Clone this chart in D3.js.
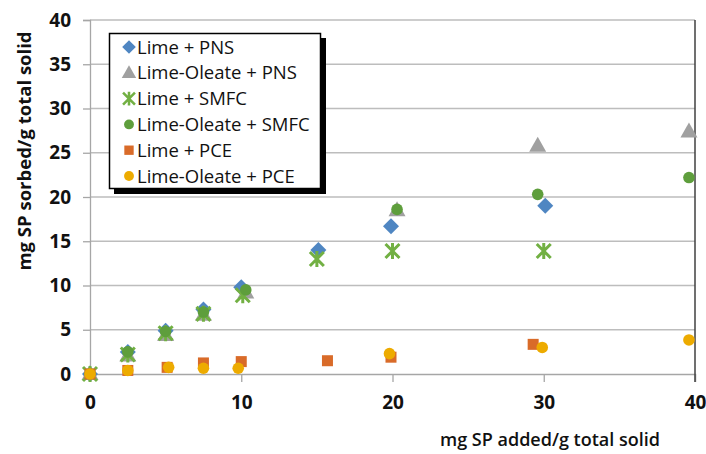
<!DOCTYPE html>
<html><head><meta charset="utf-8">
<script src="https://cdn.jsdelivr.net/npm/d3@7"></script>
<style>body{margin:0;background:#fff}svg{display:block}</style>
</head><body>
<svg id="c" width="706" height="454"></svg>
<script>
const seriesNames = ["Lime + PNS","Lime-Oleate + PNS","Lime + SMFC","Lime-Oleate + SMFC","Lime + PCE","Lime-Oleate + PCE"];
const limePNS_x = [0,2.5,5,7.5,10,15.1,19.9,30.1];
const limePNS_y = [0,2.5,4.9,7.3,9.8,14.0,16.7,19.0];
const oleatePNS_x = [0,2.5,5,7.5,10.3,20.3,29.6,39.6];
const oleatePNS_y = [0,2.1,4.4,6.7,9.2,18.5,25.8,27.4];
const limeSMFC_x = [0,2.5,5,7.5,10.1,15,20,30];
const limeSMFC_y = [0,2.2,4.6,6.8,8.9,13.0,13.9,13.9];
const oleateSMFC_x = [0,2.5,5,7.5,10.3,20.3,29.6,39.6];
const oleateSMFC_y = [0,2.5,4.8,7.0,9.5,18.6,20.3,22.2];
const limePCE_x = [0,2.5,5.1,7.5,10,15.7,19.9,29.3];
const limePCE_y = [0,0.4,0.75,1.25,1.4,1.5,1.9,3.35];
const oleatePCE_x = [0,2.5,5.2,7.5,9.8,19.8,29.9,39.6];
const oleatePCE_y = [0,0.4,0.75,0.65,0.65,2.3,3.0,3.85];
const xTicks = [0,10,20,30,40];
const yTicks = [0,5,10,15,20,25,30,35,40];
const xTitle = "mg SP added/g total solid";
const yTitle = "mg SP sorbed/g total solid";

const seriesX = [limePNS_x, oleatePNS_x, limeSMFC_x, oleateSMFC_x, limePCE_x, oleatePCE_x];
const seriesY = [limePNS_y, oleatePNS_y, limeSMFC_y, oleateSMFC_y, limePCE_y, oleatePCE_y];
const colors = ["#4F86C2","#A0A0A0","#72B043","#5E9E3C","#D96B29","#EDAB00"];
const kinds = ["diamond","triangle","asterisk","circle","square","circle"];

const svg = d3.select("#c");
const font = "'Open Sans', sans-serif";
const m = {l:90, r:695, t:20, b:374};
const x = d3.scaleLinear().domain([0,40]).range([m.l, m.r]);
const y = d3.scaleLinear().domain([0,40]).range([m.b, m.t]);

// gridlines
svg.append("g").selectAll("line").data(yTicks.filter(d=>d>0)).join("line")
  .attr("x1",m.l).attr("x2",m.r).attr("y1",d=>y(d)).attr("y2",d=>y(d))
  .attr("stroke","#BDBDBD").attr("stroke-width",1.3);

// y axis
const yAxis = svg.append("g").attr("transform",`translate(${m.l},0)`)
  .call(d3.axisLeft(y).tickValues(yTicks).tickSize(7).tickPadding(12).tickFormat(d3.format("d")));
yAxis.select(".domain").attr("stroke","#A6A6A6").attr("stroke-width",1.3);
yAxis.selectAll(".tick line").attr("stroke","#A6A6A6").attr("stroke-width",1.3);
yAxis.selectAll("text").attr("font-family",font).attr("font-weight","bold").attr("font-size",19).attr("fill","#111");

// x axis
const xAxis = svg.append("g").attr("transform",`translate(0,${m.b})`)
  .call(d3.axisBottom(x).tickValues(xTicks).tickSize(8).tickPadding(14).tickFormat(d3.format("d")));
xAxis.select(".domain").attr("stroke","#A6A6A6").attr("stroke-width",1.3);
xAxis.selectAll(".tick line").attr("stroke","#A6A6A6").attr("stroke-width",1.3);
xAxis.selectAll("text").attr("font-family",font).attr("font-weight","bold").attr("font-size",19).attr("fill","#111");

// right border
svg.append("line").attr("x1",m.r).attr("x2",m.r).attr("y1",m.t).attr("y2",m.b+8)
  .attr("stroke","#404040").attr("stroke-width",1.5);

function drawMarker(g, kind, color){
  if(kind==="diamond"){
    g.append("path").attr("d","M0,-8L8,0L0,8L-8,0Z").attr("fill",color);
  } else if(kind==="triangle"){
    g.append("path").attr("d","M0,-9L8.5,6L-8.5,6Z").attr("fill",color);
  } else if(kind==="circle"){
    g.append("circle").attr("r",5.8).attr("fill",color);
  } else if(kind==="square"){
    g.append("rect").attr("x",-5.5).attr("y",-5.5).attr("width",11).attr("height",11).attr("fill",color);
  } else if(kind==="asterisk"){
    g.append("path").attr("d","M-7,-7L7,7M-7,7L7,-7M0,-8L0,8").attr("stroke",color).attr("stroke-width",3).attr("fill","none");
  }
}

// points
seriesNames.forEach((n,i)=>{
  const g = svg.append("g");
  seriesX[i].forEach((xv,j)=>{
    const mg = g.append("g").attr("transform",`translate(${x(xv)},${y(seriesY[i][j])})`);
    drawMarker(mg, kinds[i], colors[i]);
  });
});

// legend
const lg = svg.append("g");
lg.append("rect").attr("x",114).attr("y",38).attr("width",212).attr("height",156).attr("fill","#000");
lg.append("rect").attr("x",109.5).attr("y",33.5).attr("width",211).attr("height",155).attr("fill","#fff").attr("stroke","#000").attr("stroke-width",1.5);
seriesNames.forEach((n,i)=>{
  const yy = 47 + i*25.8;
  const mg = lg.append("g").attr("transform",`translate(129,${yy}) scale(0.85)`);
  drawMarker(mg, kinds[i], colors[i]);
  lg.append("text").attr("x",137).attr("y",yy).attr("dy","0.36em")
    .attr("font-family",font).attr("font-size",18.5).attr("fill","#111").text(n);
});

// titles
svg.append("text").attr("x",550).attr("y",446).attr("text-anchor","middle")
  .attr("font-family",font).attr("font-weight",600).attr("font-size",18).attr("fill","#111").text(xTitle);
svg.append("text").attr("transform","translate(31,151) rotate(-90)").attr("text-anchor","middle")
  .attr("font-family",font).attr("font-weight","bold").attr("font-size",18.5).attr("fill","#111").text(yTitle);
</script>
</body></html>
